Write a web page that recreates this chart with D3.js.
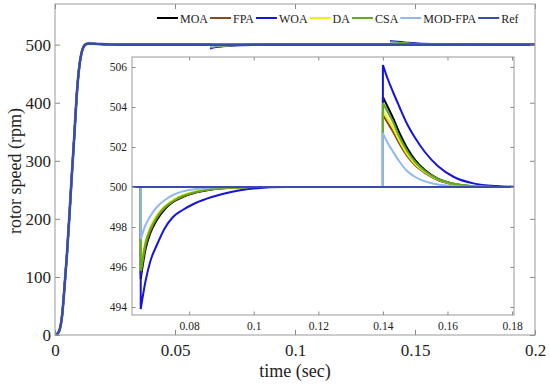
<!DOCTYPE html>
<html>
<head>
  <meta charset="utf-8">
  <script src="https://d3js.org/d3.v7.min.js"></script>
  <style>
    body { margin: 0; background: #fff; }
    svg text { font-family: "Liberation Serif", "Times New Roman", Times, serif !important; fill: #222; }
  </style>
</head>
<body>
<script>
// ---- data ----
// start-up (shared by every controller)
var startT = [0, 0.001, 0.002, 0.003, 0.004, 0.005, 0.006, 0.007, 0.008, 0.009, 0.010, 0.011, 0.012, 0.013, 0.014, 0.016, 0.019, 0.023, 0.030, 0.065];
var startV = [0, 2, 10, 35, 85, 140, 205, 275, 340, 410, 458, 485, 497, 501, 501.8, 501.6, 500.9, 500.3, 500, 500];

// load step at t = 0.065 s (dip and recovery)
var dipT = [0.065, 0.0665, 0.068, 0.070, 0.0725, 0.075, 0.078, 0.082, 0.087, 0.093, 0.100, 0.110, 0.140];
// load removal at t = 0.14 s (overshoot and recovery)
var bumpT = [0.140, 0.1415, 0.143, 0.145, 0.1475, 0.150, 0.153, 0.157, 0.162, 0.168, 0.175, 0.185, 0.200];

var names = ["MOA", "FPA", "WOA", "DA", "CSA", "MOD-FPA", "Ref"];
var colors = ["#000000", "#8b4a1c", "#1414dc", "#eeee22", "#5cae1e", "#93b8f0", "#3a4cab"];

var dipMOA    = [495.4, 496.9, 497.7, 498.35, 498.9, 499.25, 499.5, 499.72, 499.88, 499.96, 500, 500, 500];
var dipFPA    = [495.6, 497.05, 497.8, 498.45, 498.95, 499.28, 499.52, 499.74, 499.89, 499.96, 500, 500, 500];
var dipWOA    = [493.9, 495.3, 496.3, 497.1, 497.95, 498.5, 498.85, 499.2, 499.5, 499.75, 499.93, 500, 500];
var dipDA     = [495.9, 497.3, 498.0, 498.6, 499.05, 499.35, 499.6, 499.78, 499.9, 499.97, 500, 500, 500];
var dipCSA    = [495.8, 497.2, 497.9, 498.5, 499.0, 499.3, 499.55, 499.75, 499.9, 499.97, 500, 500, 500];
var dipMODFPA = [497.4, 498.1, 498.55, 499.0, 499.35, 499.6, 499.78, 499.9, 499.97, 500, 500, 500, 500];

var bumpMOA    = [504.5, 504.0, 503.5, 502.75, 501.95, 501.35, 500.85, 500.42, 500.16, 500.04, 500, 500, 500];
var bumpFPA    = [503.6, 503.2, 502.8, 502.2, 501.55, 501.08, 500.7, 500.35, 500.13, 500.03, 500, 500, 500];
var bumpWOA    = [506.1, 505.4, 504.8, 504.05, 503.15, 502.45, 501.75, 501.05, 500.5, 500.18, 500.05, 500, 500];
var bumpDA     = [503.8, 503.4, 503.0, 502.35, 501.65, 501.15, 500.75, 500.38, 500.14, 500.04, 500, 500, 500];
var bumpCSA    = [504.2, 503.75, 503.3, 502.55, 501.8, 501.25, 500.8, 500.4, 500.15, 500.04, 500, 500, 500];
var bumpMODFPA = [502.7, 502.2, 501.8, 501.3, 500.8, 500.5, 500.28, 500.12, 500.04, 500.01, 500, 500, 500];

var refT = [0.065, 0.2];
var refV = [500, 500];

var mainXTicks = [0, 0.05, 0.1, 0.15, 0.2];
var mainYTicks = [0, 100, 200, 300, 400, 500];
var insetXTicks = [0.08, 0.1, 0.12, 0.14, 0.16, 0.18];
var insetYTicks = [494, 496, 498, 500, 502, 504, 506];

// ---- build series: list of pieces, joined by vertical jumps ----
function zip(t, v) { return t.map(function (d, i) { return [d, v[i]]; }); }
var dips = [dipMOA, dipFPA, dipWOA, dipDA, dipCSA, dipMODFPA];
var bumps = [bumpMOA, bumpFPA, bumpWOA, bumpDA, bumpCSA, bumpMODFPA];
var series = names.map(function (n, i) {
  if (n === "Ref") return { name: n, color: colors[i], pieces: [zip(startT, startV), zip(refT, refV)] };
  return { name: n, color: colors[i], pieces: [zip(startT, startV), zip(dipT, dips[i]), zip(bumpT, bumps[i])] };
});

var W = 550, H = 385;
var svg = d3.select("body").append("svg").attr("width", W).attr("height", H);

// main axes
var m = { l: 55, r: 535, t: 4, b: 335 };
var x = d3.scaleLinear().domain([0, 0.2]).range([m.l, m.r]);
var y = d3.scaleLinear().domain([0, 570]).range([m.b, m.t]);

function pathFor(s, xs, ys) {
  var line = d3.line().x(function (d) { return xs(d[0]); }).y(function (d) { return ys(d[1]); })
    .curve(d3.curveMonotoneX);
  var str = s.pieces.map(function (p) { return line(p); }).join("");
  var k = 0;
  return str.replace(/M/g, function () { return (k++ === 0) ? "M" : "L"; });
}

function fmt(d) { return String(+d.toFixed(3)); }

function drawAxes(g, xs, ys, box, xt, yt, fs, tl, padX, padY) {
  var gx = g.append("g").attr("transform", "translate(0," + box.b + ")")
    .call(d3.axisBottom(xs).tickValues(xt).tickFormat(fmt).tickSizeInner(-tl).tickSizeOuter(0).tickPadding(padX));
  var gy = g.append("g").attr("transform", "translate(" + box.l + ",0)")
    .call(d3.axisLeft(ys).tickValues(yt).tickSizeInner(-tl).tickSizeOuter(0).tickPadding(padY));
  var gt = g.append("g").attr("transform", "translate(0," + box.t + ")")
    .call(d3.axisTop(xs).tickValues(xt).tickFormat("").tickSizeInner(-tl).tickSizeOuter(0));
  var gr = g.append("g").attr("transform", "translate(" + box.r + ",0)")
    .call(d3.axisRight(ys).tickValues(yt).tickFormat("").tickSizeInner(-tl).tickSizeOuter(0));
  [gx, gy, gt, gr].forEach(function (a) {
    a.attr("font-family", null);
    a.select(".domain").remove();
    a.selectAll(".tick line").attr("stroke", "#888");
    a.selectAll("text").attr("font-size", fs).attr("fill", "#222");
  });
  g.append("rect").attr("x", box.l).attr("y", box.t).attr("width", box.r - box.l).attr("height", box.b - box.t)
    .attr("fill", "none").attr("stroke", "#999").attr("stroke-width", 1);
}

svg.append("clipPath").attr("id", "clipMain").append("rect")
  .attr("x", m.l).attr("y", m.t).attr("width", m.r - m.l).attr("height", m.b - m.t);
var gMain = svg.append("g");
gMain.append("g").attr("clip-path", "url(#clipMain)").selectAll("path").data(series).enter().append("path")
  .attr("d", function (s) { return pathFor(s, x, y); })
  .attr("fill", "none").attr("stroke", function (s) { return s.color; })
  .attr("stroke-width", function (s) { return s.name === "Ref" ? 2.6 : 2; });
drawAxes(gMain, x, y, m, mainXTicks, mainYTicks, 17, 5, 9, 4);

svg.append("text").attr("x", 295).attr("y", 377).attr("text-anchor", "middle")
  .attr("font-size", 18).text("time (sec)");
svg.append("text").attr("transform", "translate(21,171) rotate(-90)").attr("text-anchor", "middle")
  .attr("font-size", 18).text("rotor speed (rpm)");

// legend
var lg = svg.append("g");
var lx = 157, ly = 18;
series.forEach(function (s) {
  lg.append("line").attr("x1", lx).attr("x2", lx + 21).attr("y1", ly).attr("y2", ly)
    .attr("stroke", s.color).attr("stroke-width", 2);
  var t = lg.append("text").attr("x", lx + 23).attr("y", ly + 4.5).attr("font-size", 12).text(s.name);
  lx += 23 + t.node().getComputedTextLength() + 2;
});

// inset
var ib = { l: 132, r: 514, t: 57, b: 315 };
var xi = d3.scaleLinear().domain([0.0623, 0.1806]).range([ib.l, ib.r]);
var yi = d3.scaleLinear().domain([493.6, 506.5]).range([ib.b, ib.t]);
var gIn = svg.append("g");
gIn.append("rect").attr("x", ib.l).attr("y", ib.t).attr("width", ib.r - ib.l).attr("height", ib.b - ib.t)
  .attr("fill", "#fff");
svg.append("clipPath").attr("id", "clipInset").append("rect")
  .attr("x", ib.l).attr("y", ib.t).attr("width", ib.r - ib.l).attr("height", ib.b - ib.t);
gIn.append("g").attr("clip-path", "url(#clipInset)").selectAll("path").data(series).enter().append("path")
  .attr("d", function (s) { return pathFor(s, xi, yi); })
  .attr("fill", "none").attr("stroke", function (s) { return s.color; })
  .attr("stroke-width", function (s) { return s.name === "Ref" ? 2.2 : 2; });
drawAxes(gIn, xi, yi, ib, insetXTicks, insetYTicks, 11.5, 3.5, 7, 5);
</script>
</body>
</html>
